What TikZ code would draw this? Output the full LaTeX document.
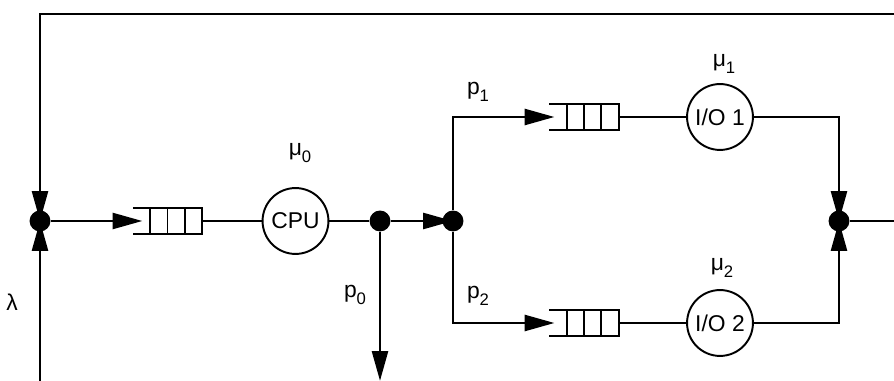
\documentclass[tikz,border=0pt]{standalone}
\usepackage{fontspec}
\setmainfont{Liberation Sans}
\usetikzlibrary{arrows.meta,calc}
\pgfdeclarelayer{background}
\pgfsetlayers{background,main}
\newcommand{\idx}[1]{\raisebox{-4pt}{\fontsize{9.5}{10}\selectfont#1}}

\begin{document}
\begin{tikzpicture}[x=0.02cm, y=-0.02cm,
    flow/.style={line width=1.7pt, -{Triangle[length=17pt, width=9pt]}},
    wire/.style={line width=1.7pt},
    thinwire/.style={line width=1.1pt},
    server/.style={circle, draw, line width=1.1pt, minimum size=37.5pt, inner sep=0pt, font=\fontsize{13}{15}\selectfont},
    junction/.style={circle, fill, minimum size=11.9pt, inner sep=0pt},
    queuebox/.style={minimum width=39.1pt, minimum height=14.7pt, inner sep=0pt},
    lbl/.style={font=\fontsize{13}{15}\selectfont, inner sep=0pt}]
    \useasboundingbox (0,0) rectangle (894,381);

    \node[junction] (j0) at (40,221) {};
    \node[queuebox] (q0) at (167.5,221) {};
    \node[server] (cpu) at (295.5,221) {CPU};
    \node[junction] (d1) at (380,221) {};
    \node[junction] (j1) at (453,221) {};
    \node[queuebox] (q1) at (584,117) {};
    \node[server] (io1) at (720,117) {I/O 1};
    \node[queuebox] (q2) at (584,323) {};
    \node[server] (io2) at (720,323) {I/O 2};
    \node[junction] (j2) at (839,221) {};

    \node[lbl] (mu0) at (300,153) {μ\idx{0}};
    \node[lbl] (mu1) at (724,64) {μ\idx{1}};
    \node[lbl] (mu2) at (722,268) {μ\idx{2}};
    \node[lbl] (p0) at (355,295) {p\idx{0}};
    \node[lbl] (p1) at (478,92) {p\idx{1}};
    \node[lbl] (p2) at (478,296) {p\idx{2}};
    \node[lbl] (lam) at (12,302) {λ};

    \coordinate (tl) at (40,14);
    \coordinate (tr) at (900,14);
    \coordinate (rout) at (900,221);
    \coordinate (lin) at (40,381);
    \coordinate (exit) at (380,381);

    \begin{pgfonlayer}{background}
    \draw[flow] (tr) -- (tl) -- (j0.center);
    \draw[flow] (lin) -- (j0.center);
    \draw[flow, shorten >=-5.5pt] (j0) -- (q0.west);
    \draw[thinwire] (q0.east) -- (cpu);
    \draw[wire] (cpu) -- (d1);
    \draw[flow] (d1) -- (j1.center);
    \draw[flow] (d1) -- (exit);
    \draw[flow, shorten >=-3pt] (j1) |- (q1.west);
    \draw[flow, shorten >=-3pt] (j1) |- (q2.west);
    \draw[thinwire] (q1.east) -- (io1);
    \draw[thinwire] (q2.east) -- (io2);
    \draw[flow] (io1) -| (j2.center);
    \draw[flow] (io2) -| (j2.center);
    \draw[wire] (j2) -- (rout);
    \end{pgfonlayer}

    \foreach \q in {q0,q1,q2} {
        \draw[thinwire] (\q.north west) -- (\q.north east) -- (\q.south east) -- (\q.south west);
        \foreach \f in {0.25,0.5,0.75}
            \draw[thinwire] ($(\q.north west)!\f!(\q.north east)$) -- ($(\q.south west)!\f!(\q.south east)$);
    }
\end{tikzpicture}
\end{document}
